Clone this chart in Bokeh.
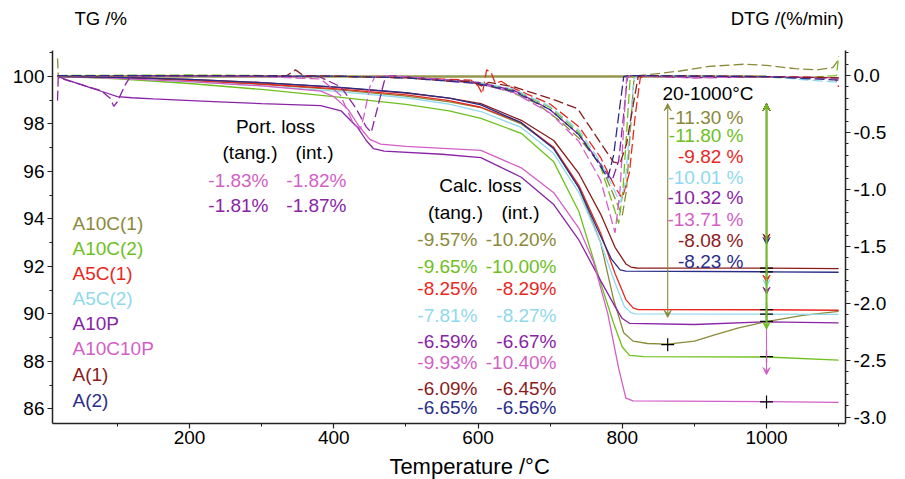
from bokeh.plotting import figure
from bokeh.layouts import column
from bokeh.models import Range1d, LinearAxis, SingleIntervalTicker, NumeralTickFormatter, Label, Arrow, VeeHead
from bokeh.embed import file_html
from bokeh.resources import INLINE

# ---------------- data ----------------
names = ["A10C(1)", "A10C(2)", "A5C(1)", "A5C(2)", "A10P", "A10C10P", "A(1)", "A(2)"]

# TG curves (temperature / °C, mass / %)
tg_T_A10C1 = [17, 100, 200, 300, 400, 500, 560, 604, 660, 705, 740, 770, 788, 802, 815, 835, 863, 900, 927, 960, 1000, 1050, 1100]
tg_A10C1 = [100, 99.94, 99.82, 99.66, 99.45, 99.17, 98.93, 98.68, 98.0, 97.0, 95.3, 93.0, 90.6, 89.2, 88.85, 88.75, 88.72, 88.85, 89.1, 89.4, 89.67, 89.93, 90.1]
tg_T_A10C2 = [17, 100, 200, 300, 400, 500, 560, 604, 660, 705, 740, 770, 788, 800, 810, 830, 1000, 1100]
tg_A10C2 = [100, 99.9, 99.7, 99.45, 99.15, 98.82, 98.55, 98.23, 97.6, 96.4, 94.3, 91.3, 89.6, 88.6, 88.25, 88.2, 88.18, 88.05]
tg_T_A5C1 = [17, 100, 200, 300, 400, 500, 560, 604, 660, 705, 740, 770, 790, 805, 815, 822, 1000, 1100]
tg_A5C1 = [100, 99.95, 99.82, 99.68, 99.48, 99.22, 98.98, 98.7, 98.05, 97.0, 95.4, 93.4, 91.7, 90.6, 90.25, 90.18, 90.17, 90.15]
tg_T_A5C2 = [17, 100, 200, 300, 400, 500, 560, 604, 660, 705, 740, 770, 790, 803, 812, 818, 1000, 1100]
tg_A5C2 = [100, 99.93, 99.78, 99.6, 99.38, 99.1, 98.83, 98.52, 97.85, 96.75, 95.1, 93.0, 91.3, 90.3, 90.05, 90.0, 89.99, 89.98]
tg_T_A10P = [17, 30, 60, 85, 100, 120, 150, 225, 300, 382, 410, 433, 445, 455, 470, 550, 604, 660, 705, 740, 770, 790, 800, 810, 900, 1000, 1100]
tg_A10P = [100, 99.85, 99.55, 99.3, 99.15, 99.1, 99.05, 98.95, 98.85, 98.77, 98.55, 97.85, 97.3, 96.96, 96.85, 96.72, 96.58, 95.75, 94.6, 93.1, 91.4, 90.3, 89.8, 89.6, 89.55, 89.66, 89.62]
tg_T_A10C10P = [17, 100, 200, 300, 382, 400, 420, 435, 450, 465, 500, 604, 660, 705, 740, 760, 780, 795, 805, 815, 1000, 1100]
tg_A10C10P = [100, 99.92, 99.78, 99.6, 99.38, 99.15, 98.6, 97.9, 97.35, 97.15, 97.05, 96.88, 96.15, 95.1, 93.6, 92.2, 90.0, 87.7, 86.45, 86.33, 86.3, 86.27]
tg_T_A1 = [17, 100, 200, 300, 400, 500, 560, 604, 660, 705, 740, 770, 790, 805, 812, 820, 1000, 1100]
tg_A1 = [100, 99.96, 99.87, 99.74, 99.55, 99.3, 99.08, 98.85, 98.15, 97.3, 95.9, 94.2, 92.8, 92.1, 91.97, 91.93, 91.92, 91.9]
tg_T_A2 = [17, 100, 200, 300, 400, 500, 560, 604, 660, 705, 740, 765, 785, 797, 805, 1000, 1100]
tg_A2 = [100, 99.96, 99.87, 99.74, 99.56, 99.32, 99.08, 98.8, 98.05, 96.95, 95.3, 93.6, 92.3, 91.85, 91.8, 91.77, 91.75]

# DTG curves (temperature / °C, %/min)
dtg_T_A10C1 = [17, 18, 200, 400, 500, 560, 600, 640, 680, 714, 740, 770, 790, 800, 806, 811, 816, 822, 840, 880, 920, 970, 1000, 1040, 1070, 1092, 1100]
dtg_A10C1 = [0.15, 0.0, 0.0, -0.005, -0.015, -0.04, -0.07, -0.13, -0.24, -0.4, -0.55, -0.78, -1.08, -1.23, -1.0, -0.5, -0.05, 0.0, 0.01, 0.04, 0.08, 0.1, 0.09, 0.06, 0.05, 0.07, 0.14]
dtg_T_A10C2 = [17, 200, 400, 500, 600, 650, 700, 740, 770, 788, 795, 801, 806, 811, 820, 950, 1050, 1097, 1100]
dtg_A10C2 = [0.0, 0.005, -0.005, -0.02, -0.06, -0.13, -0.28, -0.5, -0.8, -1.15, -1.3, -1.0, -0.5, -0.02, 0.0, -0.01, -0.02, 0.0, 0.17]
dtg_T_A5C1 = [17, 400, 500, 590, 600, 606, 612, 618, 624, 632, 645, 700, 740, 770, 790, 800, 810, 818, 825, 830, 1000, 1095, 1100]
dtg_A5C1 = [0.0, -0.005, -0.02, -0.04, -0.09, -0.16, 0.05, 0.03, -0.07, -0.05, -0.1, -0.25, -0.45, -0.72, -0.98, -1.08, -0.85, -0.35, -0.02, 0.0, -0.01, -0.02, -0.1]
dtg_T_A5C2 = [17, 400, 500, 600, 650, 700, 740, 770, 790, 797, 804, 810, 816, 822, 1000, 1100]
dtg_A5C2 = [0.0, -0.005, -0.02, -0.06, -0.12, -0.27, -0.48, -0.76, -1.02, -1.12, -0.95, -0.5, -0.03, 0.0, -0.01, -0.06]
dtg_T_A10P = [17, 18, 35, 60, 77, 90, 95, 100, 111, 118, 130, 380, 410, 430, 445, 452, 460, 470, 478, 520, 600, 650, 700, 740, 770, 786, 795, 801, 807, 812, 900, 1000, 1100]
dtg_A10P = [-0.22, -0.02, -0.05, -0.1, -0.13, -0.2, -0.27, -0.23, -0.08, -0.01, 0.0, -0.01, -0.1, -0.28, -0.45, -0.5, -0.3, -0.05, 0.0, -0.02, -0.06, -0.13, -0.3, -0.52, -0.78, -0.92, -0.75, -0.4, -0.02, 0.0, -0.02, -0.01, -0.02]
dtg_T_A10C10P = [17, 300, 382, 409, 427, 437, 442, 450, 457, 465, 520, 600, 650, 700, 740, 770, 790, 797, 802, 806, 812, 900, 1000, 1100]
dtg_A10C10P = [0.0, -0.01, -0.03, -0.17, -0.42, -0.47, -0.35, -0.1, -0.01, 0.0, -0.02, -0.07, -0.15, -0.33, -0.58, -0.92, -1.38, -1.0, -0.45, -0.02, 0.0, -0.02, -0.01, -0.03]
dtg_T_A1 = [17, 335, 347, 358, 500, 560, 590, 605, 615, 650, 700, 738, 756, 774, 788, 797, 806, 814, 822, 828, 1000, 1100]
dtg_A1 = [0.0, 0.0, 0.05, 0.0, -0.02, -0.05, -0.05, -0.09, -0.06, -0.1, -0.2, -0.29, -0.46, -0.63, -0.76, -0.77, -0.6, -0.3, -0.01, 0.0, -0.01, -0.02]
dtg_T_A2 = [17, 400, 500, 600, 650, 700, 740, 765, 780, 788, 795, 802, 808, 1000, 1100]
dtg_A2 = [0.0, -0.005, -0.02, -0.07, -0.14, -0.3, -0.52, -0.75, -0.9, -0.7, -0.35, -0.01, 0.0, -0.01, -0.04]

# reference baseline (20-1000 °C)
base_T = [17, 1000]
base_TG = [100, 100]

# annotations
port_tang = [-1.83, -1.81]      # A10C10P, A10P
port_int = [-1.82, -1.87]
port_idx = [5, 4]
calc_tang = [-9.57, -9.65, -8.25, -7.81, -6.59, -9.93, -6.09, -6.65]
calc_int = [-10.20, -10.00, -8.29, -8.27, -6.67, -10.40, -6.45, -6.56]
change_20_1000 = [-11.30, -11.80, -9.82, -10.01, -10.32, -13.71, -8.08, -8.23]
change_T = [863, 1000, 1000, 1000, 1000, 1000, 1000, 1000]

tg_T = [tg_T_A10C1, tg_T_A10C2, tg_T_A5C1, tg_T_A5C2, tg_T_A10P, tg_T_A10C10P, tg_T_A1, tg_T_A2]
tg_V = [tg_A10C1, tg_A10C2, tg_A5C1, tg_A5C2, tg_A10P, tg_A10C10P, tg_A1, tg_A2]
dtg_T = [dtg_T_A10C1, dtg_T_A10C2, dtg_T_A5C1, dtg_T_A5C2, dtg_T_A10P, dtg_T_A10C10P, dtg_T_A1, dtg_T_A2]
dtg_V = [dtg_A10C1, dtg_A10C2, dtg_A5C1, dtg_A5C2, dtg_A10P, dtg_A10C10P, dtg_A1, dtg_A2]

# ---------------- style ----------------
colors = ["#8b8a3a", "#6ec01e", "#e8281e", "#8fd9ec", "#8a24a6", "#d35fc6", "#8b1c1c", "#2b2d8a"]
FONT = "Liberation Sans"
FS = "19px"

W = 905
HEAD = 40
XR = (10.05, 1109.5)
YR = (85.38, 101.09)
DR = (-3.055, 0.22)
FL, FR, FT, FB = 52, 845, 50, 423      # frame edges in page pixels
BOTTOM = 29                            # room for the x tick labels
FOOT = 479 - FB - BOTTOM


def tx(px):
    return XR[0] + (px - FL) * (XR[1] - XR[0]) / (FR - FL)


def ty(py):
    return YR[1] - (py - FT) * (YR[1] - YR[0]) / (FB - FT)


def strip(h):
    f = figure(width=W, height=h, x_range=Range1d(0, W), y_range=Range1d(h, 0),
               output_backend="svg", toolbar_location=None, title=None,
               x_axis_location=None, y_axis_location=None,
               min_border=0, min_border_left=0, min_border_right=0,
               min_border_top=0, min_border_bottom=0)
    f.outline_line_color = None
    f.xgrid.visible = False
    f.ygrid.visible = False
    f.background_fill_color = "white"
    f.border_fill_color = "white"
    return f


main_h = FB + BOTTOM - HEAD
p = figure(width=W, height=main_h, x_range=Range1d(*XR), y_range=Range1d(*YR),
           output_backend="svg", toolbar_location=None, title=None,
           min_border_left=FL, min_border_right=W - FR, min_border_top=FT - HEAD,
           min_border_bottom=BOTTOM)
p.extra_y_ranges = {"dtg": Range1d(*DR)}
p.outline_line_color = None
p.xgrid.visible = False
p.ygrid.visible = False
p.background_fill_color = "white"
p.border_fill_color = "white"

right = LinearAxis(y_range_name="dtg")
p.add_layout(right, "right")

p.xaxis.ticker = SingleIntervalTicker(interval=200, num_minor_ticks=2)
p.yaxis[0].ticker = SingleIntervalTicker(interval=2, num_minor_ticks=2)
right.ticker = SingleIntervalTicker(interval=0.5, num_minor_ticks=5)
right.formatter = NumeralTickFormatter(format="0.0")

for ax in p.axis:
    ax.axis_line_color = "#222222"
    ax.axis_line_width = 1.5
    ax.major_tick_line_color = "#222222"
    ax.minor_tick_line_color = "#222222"
    ax.major_tick_line_width = 1.2
    ax.major_tick_in = 0
    ax.major_tick_out = 5
    ax.minor_tick_in = 0
    ax.minor_tick_out = 3
    ax.major_label_text_font = FONT
    ax.major_label_text_font_size = FS
    ax.major_label_text_color = "black"
    ax.major_label_standoff = 3
p.xaxis.major_label_standoff = 2

# baseline
p.line(base_T, base_TG, line_color="#8b8a3a", line_width=2.5, line_alpha=0.9)

# curves
for i in range(8):
    p.line(tg_T[i], tg_V[i], line_color=colors[i], line_width=1.3)
for i in range(8):
    p.line(dtg_T[i], dtg_V[i], y_range_name="dtg", line_color=colors[i], line_width=1.3, line_dash="10 4")

# mass-change arrows
inset = 1.15
order = [0, 5, 4, 3, 2, 7, 6, 1]
for i in order:
    lw = 2.0 if i == 1 else 1.1
    p.add_layout(Arrow(x_start=change_T[i], y_start=100 - inset,
                       x_end=change_T[i], y_end=100 + change_20_1000[i] + inset,
                       line_color=colors[i], line_width=lw,
                       start=VeeHead(size=7, line_color=colors[i], fill_color=colors[i], line_width=1),
                       end=VeeHead(size=7, line_color=colors[i], fill_color=colors[i], line_width=1)))
p.scatter(change_T, [100 + c for c in change_20_1000], marker="cross", size=13,
          line_color="black", line_width=1.2)


def lab(fig, x, y, text, color="black", align="left", size=FS):
    fig.add_layout(Label(x=x, y=y, text=text, text_color=color, text_align=align,
                         text_baseline="middle", text_font=FONT, text_font_size=size))


# legend
leg_y = [222.7, 248.3, 273.3, 298.3, 322.7, 348.3, 374.3, 400.0]
for i in range(8):
    lab(p, tx(72), ty(leg_y[i]), names[i], colors[i])

# portion loss
lab(p, tx(275), ty(126), "Port. loss", align="center")
lab(p, tx(249.5), ty(151.7), "(tang.)", align="center")
lab(p, tx(314), ty(151.7), "(int.)", align="center")
port_y = [180, 205]
for k in range(2):
    c = colors[port_idx[k]]
    lab(p, tx(268), ty(port_y[k]), "%.2f%%" % port_tang[k], c, align="right")
    lab(p, tx(346), ty(port_y[k]), "%.2f%%" % port_int[k], c, align="right")

# calcination loss
lab(p, tx(480), ty(185), "Calc. loss", align="center")
lab(p, tx(455), ty(211.7), "(tang.)", align="center")
lab(p, tx(520), ty(211.7), "(int.)", align="center")
calc_y = [239.3, 266, 288.3, 315, 341, 361.7, 387.7, 407.3]
for i in range(8):
    lab(p, tx(477), ty(calc_y[i]), "%.2f%%" % calc_tang[i], colors[i], align="right")
    lab(p, tx(556), ty(calc_y[i]), "%.2f%%" % calc_int[i], colors[i], align="right")

# 20-1000 °C
lab(p, tx(662), ty(92.7), "20-1000°C")
chg_y = [116.7, 135, 156, 177.3, 197.3, 219.3, 240, 260.7]
for i in range(8):
    lab(p, tx(743), ty(chg_y[i]), "%.2f %%" % change_20_1000[i], colors[i], align="right")

# header with axis titles
head = strip(HEAD)
lab(head, 25, 18, "TG /%", size="18.5px")
lab(head, 903, 18, "DTG /(%/min)", align="right", size="18.5px")

# footer with x-axis title
foot = strip(FOOT)
lab(foot, 476, FOOT / 2, "Temperature /°C", align="center", size="22px")

layout = column(head, p, foot, spacing=0)
open("out.html", "w").write(file_html(layout, INLINE))
